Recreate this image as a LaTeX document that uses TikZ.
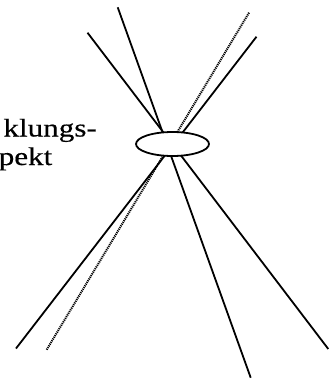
\documentclass[tikz,border=0pt]{standalone}
\usepackage{fontspec}
\usepackage{graphicx}
\setmainfont{Liberation Serif}
\newfontfamily\lblfont[FakeBold=0.4]{Liberation Serif}
\usetikzlibrary{shapes.geometric}
\begin{document}
\begin{tikzpicture}[x=1pt,y=-1pt,
  ray/.style={line width=1.8pt},
  dotray/.style={line width=2pt, dash pattern=on 1.1pt off 0.9pt},
  lens/.style={ellipse, draw, line width=1.8pt, fill=white, minimum width=73pt, minimum height=24pt, inner sep=0pt},
  lbl/.style={inner sep=0pt, anchor=base east, font=\lblfont\fontsize{25.5}{30}\selectfont}]
\useasboundingbox (0,0) rectangle (331,383);
\coordinate (a1) at (117.7,7.3);  \coordinate (b1) at (250.7,377.7);
\coordinate (a2) at (87.5,32.7);  \coordinate (b2) at (328.3,349);
\coordinate (a3) at (256.5,36.7); \coordinate (b3) at (16,348.5);
\coordinate (a4) at (249,12.7);   \coordinate (b4) at (46.5,350);
\draw[ray] (a1) -- (b1);
\draw[ray] (a2) -- (b2);
\draw[ray] (a3) -- (b3);
\draw[dotray] (a4) -- (b4);
\node[lens] (e) at (172.5,144) {};
\node[lbl] (t1) at (97,136.5) {\scalebox{1.22}[1]{klungs-}};
\node[lbl] (t2) at (52.5,165) {\scalebox{1.22}[1]{pekt}};
\end{tikzpicture}
\end{document}
